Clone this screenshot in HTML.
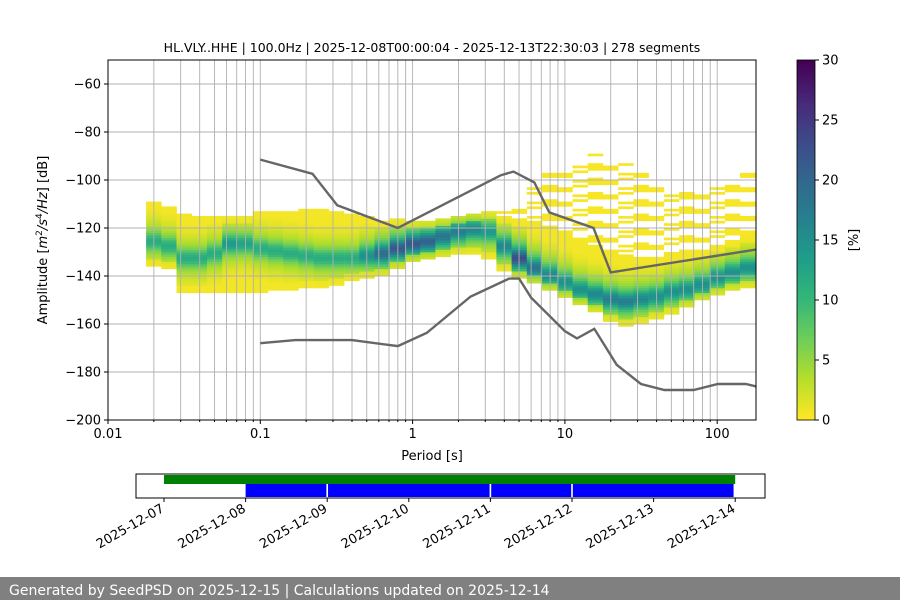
<!DOCTYPE html>
<html><head><meta charset="utf-8"><style>
body{margin:0;background:#fff;font-family:"Liberation Sans","DejaVu Sans",sans-serif}
svg text{font-family:"DejaVu Sans","Liberation Sans",sans-serif}
</style></head><body>
<svg id="c" width="900" height="600" xmlns="http://www.w3.org/2000/svg"></svg>
<script>
// ---- data ----
const colLogPeriod=[-1.7,-1.6,-1.5,-1.4,-1.3,-1.2,-1.1,-1.0,-0.9,-0.8,-0.7,-0.6,-0.5,-0.4,-0.3,-0.2,-0.1,0,0.1,0.2,0.3,0.4,0.5,0.6,0.7,0.8,0.9,1.0,1.1,1.2,1.3,1.4,1.5,1.6,1.7,1.8,1.9,2.0,2.1,2.2];
const colMode=[-126,-128,-133,-133,-131,-127,-127,-129,-130,-131,-132,-133,-133,-133,-132,-131,-129,-127,-126,-124,-122,-121,-122,-128,-133,-137,-140,-143,-146,-148,-150,-151,-150,-149,-147,-146,-144,-141,-139,-137];
const colLow=[-136,-137,-147,-147,-147,-147,-147,-147,-146,-146,-145,-145,-144,-142,-141,-140,-137,-134,-133,-132,-131,-131,-133,-138,-141,-143,-146,-149,-152,-155,-159,-161,-160,-158,-156,-153,-150,-148,-146,-145];
const colHigh=[-110,-112,-115,-116,-116,-116,-116,-114,-114,-114,-113,-113,-114,-115,-116,-118,-117,-118,-118,-117,-116,-115,-114,-116,-117,-118,-120,-122,-126,-128,-130,-132,-133,-133,-132,-131,-130,-128,-126,-124];
const colSparseHigh=[-110,-112,-115,-116,-116,-116,-116,-114,-114,-114,-113,-113,-114,-115,-116,-118,-117,-118,-118,-117,-116,-115,-114,-114,-110,-104,-98,-94,-92,-90,-91,-94,-98,-101,-104,-104,-103,-102,-100,-98];
const colPeak=[10,10,10,10,10,12,11,10,10,10,10,10,10,10,13,17,19,19,18,16,15,14,12,14,20,16,14,13,13,14,15,15,14,13,13,13,13,13,13,13];
const nhnmPeriod=[0.1,0.22,0.32,0.8,3.8,4.6,6.3,7.9,15.4,20,180];
const nhnmDb=[-91.5,-97.4,-110.5,-120,-98,-96.5,-101,-113.5,-120,-138.5,-129];
const nlnmPeriod=[0.1,0.17,0.4,0.8,1.24,2.4,4.3,5,6,10,12,15.6,21.9,31.6,45,70,101,154,180];
const nlnmDb=[-168,-166.7,-166.7,-169.2,-163.7,-148.6,-141.1,-141.1,-149,-163,-166,-162,-177,-185,-187.5,-187.5,-185,-185,-186];
const yTicks=[-60,-80,-100,-120,-140,-160,-180,-200];
const xTicks=[0.01,0.1,1,10,100];
const xTickLabels=["0.01","0.1","1","10","100"];
const cbTicks=[0,5,10,15,20,25,30];
const dayLabels=["2025-12-07","2025-12-08","2025-12-09","2025-12-10","2025-12-11","2025-12-12","2025-12-13","2025-12-14"];
const coverageSpans=[[1.0,1.99],[2.01,3.99],[4.01,4.99],[5.01,6.98]];
const dataSpan=[0,7];

const NS="http://www.w3.org/2000/svg",svg=document.getElementById('c');
function el(t,a,p){const e=document.createElementNS(NS,t);for(const k in a)e.setAttribute(k,a[k]);(p||svg).appendChild(e);return e;}
const L=108,R=756,T=60,B=420;
const X=p=>L+(Math.log10(p)+2)*152.3;
const XL=lp=>L+(lp+2)*152.3;
const Y=d=>T+(-50-d)*2.4;
const vir=[[253,231,37],[181,222,43],[110,206,88],[53,183,121],[31,158,137],[38,130,142],[49,104,142],[62,74,137],[72,40,120],[68,1,84]];
function col(f){f=Math.max(0,Math.min(1,f))*9;const i=Math.min(8,Math.floor(f)),t=f-i,a=vir[i],b=vir[i+1];return `rgb(${a.map((v,k)=>Math.round(v+(b[k]-v)*t)).join(',')})`;}

// title
let t=el('text',{x:432,y:52,'font-size':12.5,'text-anchor':'middle'});t.textContent='HL.VLY..HHE | 100.0Hz | 2025-12-08T00:00:04 - 2025-12-13T22:30:03 | 278 segments';


// heatmap
const hm=el('g',{});
colLogPeriod.forEach((lp,i)=>{
  const x0=XL(lp-0.05),x1=i<colLogPeriod.length-1?XL(lp+0.05):R;
  const w=x1-x0;
  for(let d=colLow[i];d<=colSparseHigh[i];d++){
    let p;
    if(d>colHigh[i]){ if(((i*5+d*7+(i*d)%3)%6+6)%6>1) continue; p=0.3; }
    else {
      const z=(d-colMode[i])/3.5, z2=(d-colMode[i])/9;
      const edge=Math.min(d-colLow[i],colHigh[i]-d);
      p=Math.max(0.5,colPeak[i]*Math.exp(-z*z)*0.6+colPeak[i]*0.55*Math.exp(-z2*z2)*(edge>2?1:0.4));
    }
    const r=el('rect',{x:x0.toFixed(1),y:Y(d+1).toFixed(1),width:(w+0.3).toFixed(1),height:2.7,fill:col(p/30)},hm);
    
    
  }
});

// grid
const g=el('g',{stroke:'#b0b0b0','stroke-width':0.9});
for(let e=-2;e<=2;e++)for(let m=1;m<=9;m++){const p=m*Math.pow(10,e),x=X(p);if(x>L+0.5&&x<R)el('line',{x1:x,x2:x,y1:T,y2:B},g);}
yTicks.forEach(v=>{if(Y(v)<B)el('line',{x1:L,x2:R,y1:Y(v),y2:Y(v)},g);});

// noise models
function poly(px,db,name){const e=el('polyline',{points:px.map((p,i)=>X(p).toFixed(1)+','+Y(db[i]).toFixed(1)).join(' '),fill:'none',stroke:'#666','stroke-width':2.4});}
poly(nhnmPeriod,nhnmDb,'nhnm-line');poly(nlnmPeriod,nlnmDb,'nlnm-line');

// axes frame
const fr=el('rect',{x:L,y:T,width:R-L,height:B-T,fill:'none',stroke:'#000','stroke-width':1});
yTicks.forEach(v=>{el('line',{x1:L-4,x2:L,y1:Y(v),y2:Y(v),stroke:'#000'});const tt=el('text',{x:L-7,y:Y(v)+4.5,'font-size':13,'text-anchor':'end'});tt.textContent='\u2212'+Math.abs(v);});
xTicks.forEach((v,i)=>{el('line',{x1:X(v),x2:X(v),y1:B,y2:B+4,stroke:'#000'});const tt=el('text',{x:X(v),y:B+18,'font-size':13,'text-anchor':'middle'});tt.textContent=xTickLabels[i];});
for(let e=-2;e<=2;e++)for(let m=2;m<=9;m++){const x=X(m*Math.pow(10,e));if(x<R)el('line',{x1:x,x2:x,y1:B,y2:B+2,stroke:'#000'});}
t=el('text',{x:432,y:460,'font-size':13,'text-anchor':'middle'});t.textContent='Period [s]';
t=el('text',{x:0,y:0,'font-size':13,'text-anchor':'middle',transform:'translate(47,240) rotate(-90)'});t.innerHTML='Amplitude [<tspan font-style="italic">m</tspan><tspan dy="-5" font-size="9">2</tspan><tspan dy="5" font-style="italic">/s</tspan><tspan dy="-5" font-size="9">4</tspan><tspan dy="5" font-style="italic">/Hz</tspan>] [dB]';

// colorbar
const cb=el('g',{});
for(let i=0;i<120;i++)el('rect',{x:797,y:420-(i+1)*3,width:18,height:3.3,fill:col(i/119)},cb);
el('rect',{x:797,y:60,width:18,height:360,fill:'none',stroke:'#000','stroke-width':0.8},cb);
cbTicks.forEach(v=>{const y=420-v*12;el('line',{x1:815,x2:819,y1:y,y2:y,stroke:'#000'},cb);const tt=el('text',{x:822,y:y+4.5,'font-size':13},cb);tt.textContent=v;});
t=el('text',{x:0,y:0,'font-size':13,'text-anchor':'middle',transform:'translate(858,240) rotate(-90)'});t.textContent='[%]';

// timeline
const D=d=>164+d*81.6;
const tl=el('g',{});
el('rect',{x:136,y:474,width:629,height:24,fill:'#fff',stroke:'#000','stroke-width':1},tl);
const gb=el('rect',{x:D(dataSpan[0]),y:475,width:D(dataSpan[1])-D(dataSpan[0]),height:9,fill:'#008000'},tl);
coverageSpans.forEach(s=>{const b=el('rect',{x:D(s[0]),y:484,width:D(s[1])-D(s[0]),height:13,fill:'#0000ff'},tl);});
dayLabels.forEach((s,i)=>{const x=D(i);el('line',{x1:x,x2:x,y1:498,y2:502,stroke:'#000'},tl);const tt=el('text',{x:x+1,y:511,'font-size':13,'text-anchor':'end',transform:`rotate(-30 ${x+1} 511)`},tl);tt.textContent=s;});

// footer
const fb=el('rect',{x:0,y:577,width:900,height:23,fill:'#808080'});
t=el('text',{x:9,y:595,'font-size':14,fill:'#fff'});t.textContent='Generated by SeedPSD on 2025-12-15 | Calculations updated on 2025-12-14';
</script>
</body></html>
